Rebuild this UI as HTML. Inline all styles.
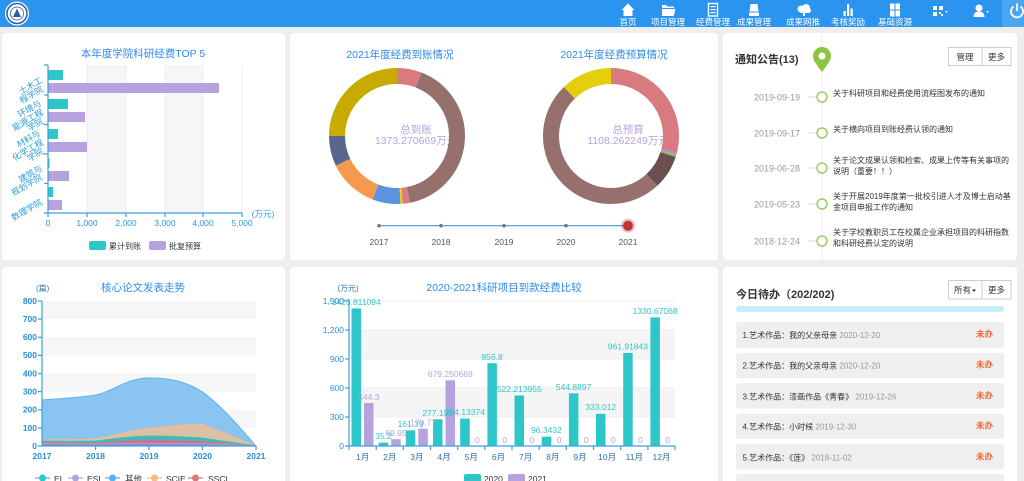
<!DOCTYPE html>
<html><head><meta charset="utf-8"><style>
html,body{margin:0;padding:0;background:#eee;width:1024px;height:481px;overflow:hidden}
svg{display:block;font-family:"Liberation Sans","Noto Sans CJK SC",sans-serif}
</style></head><body>
<svg width="1024" height="481" viewBox="0 0 1024 481">
<rect width="1024" height="481" fill="#eeeeee"/>
<!-- HEADER -->
<rect width="1024" height="27" fill="#2b94ef"/>
<rect x="1002" width="22" height="27" fill="#4aa6f3"/>
<circle cx="17" cy="13.5" r="12" fill="#fff"/>
<circle cx="17" cy="13.5" r="10" fill="none" stroke="#2a5fa8" stroke-width="1.5"/>
<circle cx="17" cy="13.5" r="6.5" fill="#fff" stroke="#2a5fa8" stroke-width="0.8"/>
<polygon points="17,8.5 21,17 13,17" fill="#2a5fa8"/>
<g fill="#fff" font-size="8.5" text-anchor="middle">
<text x="628" y="25">首页</text><text x="668" y="25">项目管理</text><text x="713" y="25">经费管理</text><text x="754" y="25">成果管理</text><text x="803" y="25">成果网推</text><text x="848" y="25">考核奖励</text><text x="895" y="25">基础资源</text>
</g>
<g fill="#fff">
<polygon points="621.5,10 628,3.5 634.5,10 632.5,10 632.5,16 623.5,16 623.5,10"/>
<path d="M662,5 h4 l1.5,1.5 h6.5 v1.5 h-12 z M662,9 h13.5 l-1.8,7 h-11.7 z"/>
<rect x="708.5" y="3.5" width="9" height="12.5" fill="none" stroke="#fff" stroke-width="1.4"/>
<rect x="710.5" y="6" width="5" height="1.2"/><rect x="710.5" y="9" width="5" height="1.2"/><rect x="710.5" y="12" width="5" height="1.2"/>
<path d="M750.5,4 h7 l1,7.5 h-9 z"/><rect x="749" y="12.5" width="10" height="3.5"/>
<circle cx="801" cy="9" r="3.5"/><circle cx="806" cy="8" r="4"/><circle cx="808.5" cy="10.5" r="2.5"/><rect x="801" y="9" width="8" height="4"/>
<rect x="803" y="11" width="2" height="5"/>
<rect x="843.5" y="11" width="2.2" height="5"/><rect x="847" y="4" width="2.2" height="12"/><rect x="850.5" y="8.5" width="2.2" height="7.5"/>
<rect x="890" y="3.5" width="4.5" height="6"/><rect x="895.5" y="3.5" width="4.5" height="6"/><rect x="890" y="10.5" width="4.5" height="6"/><rect x="895.5" y="10.5" width="4.5" height="6"/>
<rect x="933" y="6" width="4" height="4"/><rect x="939" y="6" width="4" height="4"/><rect x="933" y="12" width="4" height="4"/><rect x="939" y="12" width="2" height="2"/><rect x="941" y="14" width="2" height="2"/>
<polygon points="945,11 948,11 946.5,13"/>
<circle cx="979" cy="8" r="3.5"/><path d="M973.5,17 c0,-4 2.5,-5.5 5.5,-5.5 s5.5,1.5 5.5,5.5 z"/>
<polygon points="986,11 989,11 987.5,13"/>
</g>
<path d="M1013.5,6.5 a6,6 0 1 0 7,0" fill="none" stroke="#fff" stroke-width="1.8"/>
<line x1="1017" y1="3.5" x2="1017" y2="11" stroke="#fff" stroke-width="1.8"/>

<!-- PANELS -->
<g fill="#fff">
<rect x="2" y="33" width="283" height="227" rx="4"/>
<rect x="290" y="33" width="428" height="227" rx="4"/>
<rect x="723" y="33" width="294" height="227" rx="4"/>
<rect x="2" y="267" width="283" height="220" rx="4"/>
<rect x="290" y="267" width="428" height="220" rx="4"/>
<rect x="723" y="267" width="294" height="220" rx="4"/>
</g>

<!-- PANEL 1 -->
<text x="143" y="57" font-size="10.5" fill="#2d8cf0" text-anchor="middle">本年度学院科研经费TOP 5</text>
<rect x="87" y="65" width="39" height="148" fill="#f6f6f9"/>
<rect x="165" y="65" width="38" height="148" fill="#f6f6f9"/>
<g stroke="#ececec" stroke-width="1">
<line x1="87" y1="65" x2="87" y2="213"/><line x1="126" y1="65" x2="126" y2="213"/><line x1="165" y1="65" x2="165" y2="213"/><line x1="203" y1="65" x2="203" y2="213"/><line x1="242" y1="65" x2="242" y2="213"/>
</g>
<g fill="#2ec7c9">
<rect x="48" y="70" width="15" height="10"/><rect x="48" y="99" width="20" height="10"/><rect x="48" y="129" width="10" height="10"/><rect x="48" y="158" width="1.5" height="10"/><rect x="48" y="187" width="5" height="10"/>
</g>
<g fill="#b6a2de">
<rect x="48" y="83" width="171" height="10"/><rect x="48" y="112" width="37" height="10"/><rect x="48" y="142" width="39" height="10"/><rect x="48" y="171" width="21" height="10"/><rect x="48" y="200" width="14" height="10"/>
</g>
<g stroke="#3ca0dc" stroke-width="1.2">
<line x1="48" y1="65" x2="48" y2="213"/><line x1="48" y1="213" x2="242" y2="213"/>
<line x1="44" y1="65" x2="48" y2="65"/><line x1="44" y1="95" x2="48" y2="95"/><line x1="44" y1="124.5" x2="48" y2="124.5"/><line x1="44" y1="154" x2="48" y2="154"/><line x1="44" y1="183.5" x2="48" y2="183.5"/><line x1="44" y1="213" x2="48" y2="213"/>
<line x1="48" y1="213" x2="48" y2="217"/><line x1="87" y1="213" x2="87" y2="217"/><line x1="126" y1="213" x2="126" y2="217"/><line x1="165" y1="213" x2="165" y2="217"/><line x1="203" y1="213" x2="203" y2="217"/><line x1="242" y1="213" x2="242" y2="217"/>
</g>
<g fill="#2a9bd8" font-size="8.5" text-anchor="end">
<text transform="translate(43,82) rotate(-30)">土木工</text>
<text transform="translate(44,91) rotate(-30)">程学院</text>
<text transform="translate(42,105) rotate(-30)">环境与</text>
<text transform="translate(44,114) rotate(-30)">能源工程</text>
<text transform="translate(44,123) rotate(-30)">学院</text>
<text transform="translate(41,135) rotate(-30)">材料与</text>
<text transform="translate(44,144) rotate(-30)">化学工程</text>
<text transform="translate(44,153) rotate(-30)">学院</text>
<text transform="translate(43,170) rotate(-30)">建筑与</text>
<text transform="translate(43,179) rotate(-30)">规划学院</text>
<text transform="translate(43,204) rotate(-30)">数理学院</text>
</g>
<g fill="#2a9bd8" font-size="8.5" text-anchor="middle">
<text x="48" y="226">0</text><text x="87" y="226">1,000</text><text x="126" y="226">2,000</text><text x="165" y="226">3,000</text><text x="203" y="226">4,000</text><text x="242" y="226">5,000</text>
<text x="263" y="217">(万元)</text>
</g>
<rect x="89" y="241" width="17" height="9" rx="2" fill="#2ec7c9"/>
<text x="109" y="249" font-size="8" fill="#333">累计到账</text>
<rect x="149" y="241" width="17" height="9" rx="2" fill="#b6a2de"/>
<text x="169" y="249" font-size="8" fill="#333">批复预算</text>

<!-- PANEL 2 -->
<text x="400" y="58" font-size="10.5" fill="#2d8cf0" text-anchor="middle">2021年度经费到账情况</text>
<text x="614" y="58" font-size="10.5" fill="#2d8cf0" text-anchor="middle">2021年度经费预算情况</text>
<g fill="#b6a2de" font-size="10.5" text-anchor="middle">
<text x="416" y="133">总到账</text><text x="416" y="144">1373.270669万元</text>
<text x="628" y="133">总预算</text><text x="628" y="144">1108.262249万元</text>
</g>
<g fill="none" stroke-width="16" transform="rotate(-90 397 136)">
<circle cx="397" cy="136" r="60" stroke="#d87a80" stroke-dasharray="22 377" stroke-dashoffset="0"/>
<circle cx="397" cy="136" r="60" stroke="#95706d" stroke-dasharray="155 377" stroke-dashoffset="-22"/>
<circle cx="397" cy="136" r="60" stroke="#d87a80" stroke-dasharray="6.3 377" stroke-dashoffset="-177"/>
<circle cx="397" cy="136" r="60" stroke="#e5cf0d" stroke-dasharray="2.1 377" stroke-dashoffset="-183.3"/>
<circle cx="397" cy="136" r="60" stroke="#5b93dd" stroke-dasharray="25.1 377" stroke-dashoffset="-185.4"/>
<circle cx="397" cy="136" r="60" stroke="#f5994e" stroke-dasharray="45 377" stroke-dashoffset="-210.5"/>
<circle cx="397" cy="136" r="60" stroke="#59678c" stroke-dasharray="27.2 377" stroke-dashoffset="-255.5"/>
<circle cx="397" cy="136" r="60" stroke="#c9ab00" stroke-dasharray="94.3 377" stroke-dashoffset="-282.7"/>
</g>
<g fill="none" stroke-width="16" transform="rotate(-90 611 136)">
<circle cx="611" cy="136" r="60" stroke="#d87a80" stroke-dasharray="108.9 377" stroke-dashoffset="0"/>
<circle cx="611" cy="136" r="60" stroke="#a98be0" stroke-dasharray="2.1 377" stroke-dashoffset="-108.9"/>
<circle cx="611" cy="136" r="60" stroke="#8bc34a" stroke-dasharray="2.1 377" stroke-dashoffset="-111"/>
<circle cx="611" cy="136" r="60" stroke="#6b4f4f" stroke-dasharray="30.4 377" stroke-dashoffset="-113.1"/>
<circle cx="611" cy="136" r="60" stroke="#95706d" stroke-dasharray="187.4 377" stroke-dashoffset="-143.5"/>
<circle cx="611" cy="136" r="60" stroke="#e5cf0d" stroke-dasharray="46.1 377" stroke-dashoffset="-330.9"/>
</g>
<line x1="379" y1="225.7" x2="628" y2="225.7" stroke="#3d9ad8" stroke-width="1.2"/>
<g fill="#777"><circle cx="379" cy="225.7" r="1.8"/><circle cx="441" cy="225.7" r="1.8"/><circle cx="504" cy="225.7" r="1.8"/><circle cx="566" cy="225.7" r="1.8"/></g>
<circle cx="628" cy="225.7" r="7" fill="rgba(194,53,49,0.3)"/>
<circle cx="628" cy="225.7" r="5" fill="#c23531"/>
<g fill="#555" font-size="8.5" text-anchor="middle">
<text x="379" y="245">2017</text><text x="441" y="245">2018</text><text x="504" y="245">2019</text><text x="566" y="245">2020</text><text x="628" y="245">2021</text>
</g>

<!-- PANEL 3 -->
<line x1="822" y1="33" x2="822" y2="260" stroke="#ececec" stroke-width="1"/>
<text x="735" y="63" font-size="11" font-weight="bold" fill="#333">通知公告(13)</text>
<path d="M822,72 C816.5,64.5 813,60.5 813,56 A9,9 0 1 1 831,56 C831,60.5 827.5,64.5 822,72 Z" fill="#8cc540"/>
<circle cx="822" cy="56" r="3.5" fill="#fff"/>
<rect x="948.5" y="47.5" width="62.5" height="18" fill="#fff" stroke="#ccc"/>
<line x1="982" y1="47.5" x2="982" y2="65.5" stroke="#ccc"/>
<text x="965" y="60" font-size="8.5" fill="#333" text-anchor="middle">管理</text>
<text x="996.5" y="60" font-size="8.5" fill="#333" text-anchor="middle">更多</text>
<g stroke="#ddd"><line x1="808" y1="97" x2="816" y2="97"/><line x1="808" y1="133" x2="816" y2="133"/><line x1="808" y1="168" x2="816" y2="168"/><line x1="808" y1="204" x2="816" y2="204"/><line x1="808" y1="241" x2="816" y2="241"/></g>
<g fill="#fff" stroke="#9ccc65" stroke-width="1.5">
<circle cx="822" cy="97" r="5"/><circle cx="822" cy="133" r="5"/><circle cx="822" cy="168" r="5"/><circle cx="822" cy="204" r="5"/><circle cx="822" cy="241" r="5"/>
</g>
<g fill="#999" font-size="9" text-anchor="end">
<text x="800" y="100.5">2019-09-19</text><text x="800" y="136.5">2019-09-17</text><text x="800" y="171.5">2019-06-28</text><text x="800" y="207.5">2019-05-23</text><text x="800" y="244.5">2018-12-24</text>
</g>
<g fill="#333" font-size="8">
<text x="833" y="96">关于科研项目和经费使用流程图发布的通知</text>
<text x="833" y="132">关于横向项目到账经费认领的通知</text>
<text x="833" y="163">关于论文成果认领和检索、成果上传等有关事项的</text>
<text x="833" y="174">说明（重要！！）</text>
<text x="833" y="199">关于开展2019年度第一批校引进人才及博士启动基</text>
<text x="833" y="210">金项目申报工作的通知</text>
<text x="833" y="235">关于学校教职员工在校属企业承担项目的科研指数</text>
<text x="833" y="246">和科研经费认定的说明</text>
</g>

<!-- PANEL 4 -->
<text x="36" y="291" font-size="8" fill="#2a7fc4">(篇)</text>
<text x="143" y="291" font-size="10.5" fill="#2d8cf0" text-anchor="middle">核心论文发表走势</text>
<g fill="#f6f6f6">
<rect x="42" y="301" width="214" height="18"/><rect x="42" y="337.5" width="214" height="18"/><rect x="42" y="373.8" width="214" height="18"/><rect x="42" y="410" width="214" height="18"/>
</g>
<path d="M42,446 L42,400 C60,398.5 78,398 95.5,395 C115,391 126,378 149,378 C168,378 186,381 202.5,392 C222,406 240,428 256,446 Z" fill="#8ac5f2" stroke="#5ab1ef" stroke-width="1"/>
<path d="M42,446 L42,440 C60,440 78,440 95.5,439 C115,436 130,430 149,428.5 C168,427 186,423.5 202.5,424.5 C222,432 240,440 256,446 Z" fill="#dcc0a6" stroke="#ffb980" stroke-width="1"/>
<path d="M42,446 L42,441 C60,441 78,441.5 95.5,441 C115,439 130,436 149,436 C168,436 186,437 202.5,438 C222,441 240,443.5 256,446 Z" fill="#4bb6ae" stroke="#2ec7c9" stroke-width="1"/>
<path d="M42,446 L42,442 C60,442.5 78,443 95.5,443 C115,442 130,440 149,440 C168,440 186,441 202.5,441.5 C222,443 240,444.5 256,446 Z" fill="#b8739a" stroke="#d87a80" stroke-width="0.8"/>
<path d="M42,446 L42,443.5 C60,443.5 78,444 95.5,444 C115,443.5 130,443 149,443 C168,443 186,443.5 202.5,443.5 C222,444.5 240,445 256,446 Z" fill="#9b86c8" stroke="#b6a2de" stroke-width="0.8"/>
<g stroke="#3ca0dc" stroke-width="1.2">
<line x1="42" y1="301" x2="42" y2="446"/><line x1="42" y1="446" x2="256" y2="446"/>
<line x1="38" y1="301" x2="42" y2="301"/><line x1="38" y1="319.1" x2="42" y2="319.1"/><line x1="38" y1="337.3" x2="42" y2="337.3"/><line x1="38" y1="355.4" x2="42" y2="355.4"/><line x1="38" y1="373.5" x2="42" y2="373.5"/><line x1="38" y1="391.6" x2="42" y2="391.6"/><line x1="38" y1="409.8" x2="42" y2="409.8"/><line x1="38" y1="427.9" x2="42" y2="427.9"/><line x1="38" y1="446" x2="42" y2="446"/>
<line x1="95.5" y1="446" x2="95.5" y2="450"/><line x1="149" y1="446" x2="149" y2="450"/><line x1="202.5" y1="446" x2="202.5" y2="450"/><line x1="256" y1="446" x2="256" y2="450"/>
</g>
<g fill="#2a8fd6" font-size="8.5" font-weight="bold" text-anchor="end">
<text x="37" y="304">800</text><text x="37" y="322">700</text><text x="37" y="340">600</text><text x="37" y="358">500</text><text x="37" y="376.5">400</text><text x="37" y="394.5">300</text><text x="37" y="412.5">200</text><text x="37" y="431">100</text><text x="37" y="449">0</text>
</g>
<g fill="#2a8fd6" font-size="8.5" font-weight="bold" text-anchor="middle">
<text x="42" y="459">2017</text><text x="95.5" y="459">2018</text><text x="149" y="459">2019</text><text x="202.5" y="459">2020</text><text x="256" y="459">2021</text>
</g>
<g stroke-width="1.2">
<line x1="35" y1="478" x2="50" y2="478" stroke="#2ec7c9"/><circle cx="42.5" cy="478" r="3.5" fill="#2ec7c9"/>
<line x1="68" y1="478" x2="83" y2="478" stroke="#b6a2de"/><circle cx="75.5" cy="478" r="3.5" fill="#b6a2de"/>
<line x1="105" y1="478" x2="120" y2="478" stroke="#5ab1ef"/><circle cx="112.5" cy="478" r="3.5" fill="#5ab1ef"/>
<line x1="147" y1="478" x2="162" y2="478" stroke="#ffb980"/><circle cx="154.5" cy="478" r="3.5" fill="#ffb980"/>
<line x1="188" y1="478" x2="203" y2="478" stroke="#d87a80"/><circle cx="195.5" cy="478" r="3.5" fill="#d87a80"/>
</g>
<g fill="#333" font-size="8.5">
<text x="54" y="482">EI</text><text x="87" y="482">ESI</text><text x="125" y="482">其他</text><text x="166" y="482">SCIE</text><text x="208" y="482">SSCI</text>
</g>

<!-- PANEL 5 -->
<text x="348" y="291" font-size="8" fill="#2a7fc4" text-anchor="middle">(万元)</text>
<text x="504" y="291" font-size="10.5" fill="#2d8cf0" text-anchor="middle">2020-2021科研项目到款经费比较</text>
<g fill="#f5f5f5"><rect x="349" y="330" width="326" height="29"/><rect x="349" y="388" width="326" height="29"/></g>
<g stroke="#eee"><line x1="349" y1="301" x2="675" y2="301"/><line x1="349" y1="330" x2="675" y2="330"/><line x1="349" y1="359" x2="675" y2="359"/><line x1="349" y1="388" x2="675" y2="388"/><line x1="349" y1="417" x2="675" y2="417"/></g>
<g fill="#2ec7c9">
<rect x="351.5" y="308.4" width="9.5" height="137.6"/>
<rect x="378.7" y="442.6" width="9.5" height="3.4"/>
<rect x="405.8" y="430.4" width="9.5" height="15.6"/>
<rect x="433" y="419.2" width="9.5" height="26.8"/>
<rect x="460.2" y="418.5" width="9.5" height="27.5"/>
<rect x="487.4" y="363.2" width="9.5" height="82.8"/>
<rect x="514.5" y="395.5" width="9.5" height="50.5"/>
<rect x="541.7" y="436.7" width="9.5" height="9.3"/>
<rect x="568.9" y="393.3" width="9.5" height="52.7"/>
<rect x="596" y="413.8" width="9.5" height="32.2"/>
<rect x="623.2" y="353" width="9.5" height="93"/>
<rect x="650.4" y="317.4" width="9.5" height="128.6"/>
</g>
<g fill="#b6a2de">
<rect x="364" y="403" width="9.5" height="43"/>
<rect x="391.2" y="439.2" width="9.5" height="6.8"/>
<rect x="418.3" y="428.6" width="9.5" height="17.4"/>
<rect x="445.5" y="380.3" width="9.5" height="65.7"/>
</g>
<g fill="#2ec7c9" font-size="8.5" text-anchor="middle">
<text x="356.2" y="305">1423.811094</text>
<text x="383.4" y="439">35.2</text>
<text x="410.6" y="427">161.39</text>
<text x="437.7" y="416">277.190</text>
<text x="464.9" y="415">284.13374</text>
<text x="492.1" y="360">856.8</text>
<text x="519.3" y="392">522.213955</text>
<text x="546.4" y="433">96.3432</text>
<text x="573.6" y="390">544.8897</text>
<text x="600.8" y="410">333.012</text>
<text x="627.9" y="349.5">961.91843</text>
<text x="655.1" y="314">1330.67068</text>
</g>
<g fill="#b6a2de" font-size="8.5" text-anchor="middle">
<text x="368.8" y="400">444.3</text>
<text x="396" y="436">69.95</text>
<text x="423.1" y="425.5">179.77</text>
<text x="450.3" y="377">679.250669</text>
<text x="477.4" y="443">0</text><text x="504.6" y="443">0</text><text x="531.8" y="443">0</text><text x="559" y="443">0</text><text x="586.1" y="443">0</text><text x="613.3" y="443">0</text><text x="640.5" y="443">0</text><text x="667.6" y="443">0</text>
</g>
<g stroke="#3ca0dc" stroke-width="1.2">
<line x1="349" y1="301" x2="349" y2="446"/><line x1="349" y1="446" x2="675" y2="446"/>
<line x1="345" y1="301" x2="349" y2="301"/><line x1="345" y1="330" x2="349" y2="330"/><line x1="345" y1="359" x2="349" y2="359"/><line x1="345" y1="388" x2="349" y2="388"/><line x1="345" y1="417" x2="349" y2="417"/><line x1="345" y1="446" x2="349" y2="446"/>
<line x1="349" y1="446" x2="349" y2="450"/><line x1="376.2" y1="446" x2="376.2" y2="450"/><line x1="403.3" y1="446" x2="403.3" y2="450"/><line x1="430.5" y1="446" x2="430.5" y2="450"/><line x1="457.7" y1="446" x2="457.7" y2="450"/><line x1="484.9" y1="446" x2="484.9" y2="450"/><line x1="512" y1="446" x2="512" y2="450"/><line x1="539.2" y1="446" x2="539.2" y2="450"/><line x1="566.4" y1="446" x2="566.4" y2="450"/><line x1="593.5" y1="446" x2="593.5" y2="450"/><line x1="620.7" y1="446" x2="620.7" y2="450"/><line x1="647.9" y1="446" x2="647.9" y2="450"/><line x1="675" y1="446" x2="675" y2="450"/>
</g>
<g fill="#2a8fd6" font-size="8.5" text-anchor="end">
<text x="344" y="304">1,500</text><text x="344" y="333">1,200</text><text x="344" y="362">900</text><text x="344" y="391">600</text><text x="344" y="420">300</text><text x="344" y="449">0</text>
</g>
<g fill="#2f6fb0" font-size="8.5" text-anchor="middle">
<text x="362.6" y="460">1月</text><text x="389.8" y="460">2月</text><text x="416.9" y="460">3月</text><text x="444.1" y="460">4月</text><text x="471.3" y="460">5月</text><text x="498.5" y="460">6月</text><text x="525.6" y="460">7月</text><text x="552.8" y="460">8月</text><text x="580" y="460">9月</text><text x="607.1" y="460">10月</text><text x="634.3" y="460">11月</text><text x="661.5" y="460">12月</text>
</g>
<rect x="464" y="474" width="17" height="9" rx="2" fill="#2ec7c9"/>
<text x="484" y="482" font-size="8.5" fill="#333">2020</text>
<rect x="508" y="474" width="17" height="9" rx="2" fill="#b6a2de"/>
<text x="528" y="482" font-size="8.5" fill="#333">2021</text>

<!-- PANEL 6 -->
<text x="736" y="298" font-size="11" font-weight="bold" fill="#333">今日待办（202/202)</text>
<rect x="948.5" y="280.5" width="62.5" height="18.5" fill="#fff" stroke="#ccc"/>
<line x1="982" y1="280.5" x2="982" y2="299" stroke="#ccc"/>
<text x="954" y="293" font-size="8.5" fill="#333">所有</text>
<polygon points="972,289.5 976,289.5 974,292" fill="#333"/>
<text x="996.5" y="293" font-size="8.5" fill="#333" text-anchor="middle">更多</text>
<rect x="736" y="306" width="268" height="6" rx="3" fill="#c7ecfa"/>
<g fill="#efefef">
<rect x="736" y="322" width="268" height="26" rx="3"/>
<rect x="736" y="352.7" width="268" height="25.5" rx="3"/>
<rect x="736" y="383" width="268" height="25.7" rx="3"/>
<rect x="736" y="413.7" width="268" height="25.3" rx="3"/>
<rect x="736" y="444" width="268" height="25.5" rx="3"/>
<rect x="736" y="474" width="268" height="25.5" rx="3"/>
</g>
<g font-size="8" fill="#333">
<text x="742.5" y="338">1.艺术作品：我的父亲母亲<tspan fill="#999"> 2020-12-20</tspan></text>
<text x="742.5" y="368.5">2.艺术作品：我的父亲母亲<tspan fill="#999"> 2020-12-20</tspan></text>
<text x="742.5" y="399.5">3.艺术作品：漆画作品《青春》<tspan fill="#999"> 2019-12-26</tspan></text>
<text x="742.5" y="429.5">4.艺术作品：小时候<tspan fill="#999"> 2019-12-30</tspan></text>
<text x="742.5" y="460.5">5.艺术作品：《莲》<tspan fill="#999"> 2018-11-02</tspan></text>
</g>
<g font-size="8.5" fill="#f0683a" font-weight="bold">
<text x="976" y="337">未办</text><text x="976" y="367.5">未办</text><text x="976" y="398.5">未办</text><text x="976" y="428.5">未办</text><text x="976" y="459.5">未办</text>
</g>
</svg>
</body></html>
